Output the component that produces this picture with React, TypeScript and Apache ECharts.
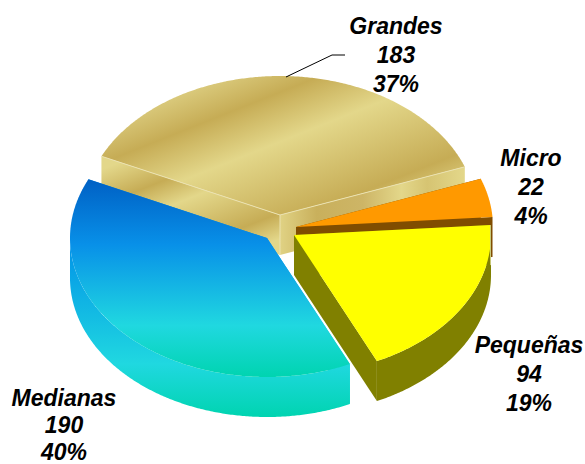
import React, { useEffect, useRef } from "react";
import * as echarts from "echarts";

const categories = ["Grandes", "Micro", "Pequeñas", "Medianas"];
const counts = [183, 22, 94, 190];
const percentLabels = ["37%", "4%", "19%", "40%"];

// Layout of the projected pie
const START_ANGLE = -65;
const RX = 197;
const RY = 139;
const DEPTH = 40;
const SLICE_CENTERS = [
  [280, 215],
  [296, 227],
  [294, 235],
  [267, 238],
];
const LABEL_POS = [
  [396, 55],
  [531, 186.5],
  [529, 374],
  [64, 425],
];
const LABEL_LINE_HEIGHT = [29, 29, 29, 27];
const LEADER = [
  [286, 77],
  [332, 55],
  [345, 55],
];

const grad = (x: number, y: number, x2: number, y2: number, stops: [number, string][]) =>
  new echarts.graphic.LinearGradient(
    x,
    y,
    x2,
    y2,
    stops.map(([offset, color]) => ({ offset, color })),
    true
  );

// band gradient measured along the direction (.37, .93)
const bands = (p0: number, p1: number, stops: [number, string][]) =>
  grad(
    0.37 * p0,
    0.93 * p0,
    0.37 * p1,
    0.93 * p1,
    stops.map(([p, c]) => [(p - p0) / (p1 - p0), c] as [number, string])
  );

const GOLD_D = "#C6AC55";
const GOLD_L = "#E3D78A";

const goldTop = bands(150, 350, [
  [150, "#DCCD80"],
  [189, GOLD_D],
  [235, GOLD_L],
  [312, GOLD_D],
  [350, GOLD_L],
]);
const goldLeft = bands(195, 325, [
  [195, GOLD_L],
  [228, GOLD_D],
  [254, GOLD_L],
  [301, GOLD_D],
  [325, GOLD_L],
]);
const goldRight = grad(280, 0, 464, 0, [
  [0, "#E0D284"],
  [0.2, "#C9B05C"],
  [0.45, "#CDB566"],
  [0.66, GOLD_L],
  [0.8, "#D6C472"],
  [1, GOLD_L],
]);
const blueTop = grad(0, 179, 0, 377, [
  [0, "#0060C4"],
  [0.33, "#0890E8"],
  [0.74, "#20D8E0"],
  [1, "#00D4B0"],
]);
const blueWall = grad(0, 240, 0, 417, [
  [0, "#0090E8"],
  [0.7, "#20D8E0"],
  [1, "#00D4B0"],
]);

const SLICE_STYLES: any[] = [
  { top: goldTop, start: goldLeft, end: goldRight, wall: GOLD_D, seam: "#EBE2B0" },
  { top: "#FF9900", start: "#804D00", end: "#804D00", wall: "#804D00" },
  { top: "#FFFF00", start: "#808000", end: "#808000", wall: "#808000", startSeam: "#C8C878" },
  { top: blueTop, start: blueWall, end: blueWall, wall: blueWall },
];

const total = counts.reduce((a, b) => a + b, 0);

function renderSlice(params: any, api: any) {
  const i = params.dataIndex;
  const value = api.value(0);
  const before = counts.slice(0, i).reduce((a, b) => a + b, 0);
  const a0 = START_ANGLE + (360 * before) / total;
  const a1 = a0 + (360 * value) / total;
  const [cx, cy] = SLICE_CENTERS[i];
  const pt = (deg: number, dy = 0) => {
    const r = (deg * Math.PI) / 180;
    return [cx + RX * Math.sin(r), cy - RY * Math.cos(r) + dy];
  };
  const arc = (from: number, to: number, dy = 0) => {
    const out: number[][] = [];
    const n = Math.max(1, Math.ceil((to - from) * 2));
    for (let k = 0; k <= n; k++) out.push(pt(from + ((to - from) * k) / n, dy));
    return out;
  };
  const st = SLICE_STYLES[i];
  const children: any[] = [];
  const poly = (points: number[][], fill: any) =>
    children.push({ type: "polygon", shape: { points }, style: { fill, stroke: null } });
  const line = (points: number[][], stroke: string) =>
    children.push({ type: "polyline", shape: { points }, style: { stroke, lineWidth: 1, fill: null } });

  const s = pt(a0);
  const e = pt(a1);
  poly([s, [cx, cy], [cx, cy + DEPTH], [s[0], s[1] + DEPTH]], st.start);
  poly([[cx, cy], e, [e[0], e[1] + DEPTH], [cx, cy + DEPTH]], st.end);
  const w0 = Math.max(a0, 90);
  const w1 = Math.min(a1, 270);
  if (w1 > w0) {
    poly([...arc(w0, w1), ...arc(w0, w1, DEPTH).reverse()], st.wall);
  }
  poly([[cx, cy], ...arc(a0, a1)], st.top);
  if (st.seam) {
    line([s, [cx, cy], e], st.seam);
    line([[cx, cy], [cx, cy + DEPTH]], st.seam);
  }
  if (st.startSeam) line([s, [s[0], s[1] + DEPTH]], st.startSeam);
  if (i === 0) line(LEADER, "#000000");

  children.push({
    type: "text",
    x: LABEL_POS[i][0],
    y: LABEL_POS[i][1],
    style: {
      text: `${categories[i]}\n${value}\n${percentLabels[i]}`,
      fill: "#000000",
      fontFamily: '"Liberation Sans", Arial, sans-serif',
      fontSize: 23,
      fontWeight: "bold",
      fontStyle: "italic",
      lineHeight: LABEL_LINE_HEIGHT[i],
      align: "center",
      verticalAlign: "middle",
    },
  });
  return { type: "group", children };
}

export default function App() {
  const ref = useRef<HTMLDivElement>(null);
  useEffect(() => {
    const chart = echarts.init(ref.current!, undefined, { renderer: "svg" });
    chart.setOption({
      animation: false,
      backgroundColor: "#FFFFFF",
      series: [
        {
          type: "custom",
          coordinateSystem: "none",
          data: counts.map((v, i) => ({ name: categories[i], value: [v] })),
          renderItem: renderSlice,
          silent: true,
        },
      ],
    });
    return () => chart.dispose();
  }, []);
  return (
    <div
      ref={ref}
      style={{ position: "absolute", left: 0, top: 0, width: 585, height: 464, overflow: "hidden" }}
    />
  );
}
